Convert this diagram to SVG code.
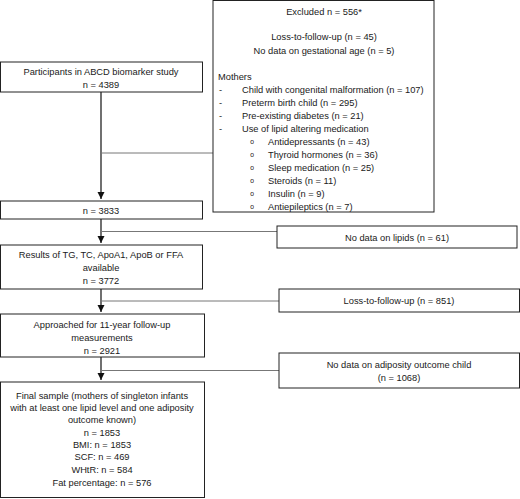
<svg xmlns="http://www.w3.org/2000/svg" width="520" height="499" viewBox="0 0 520 499">
<defs>
<style>
.box{fill:#fff;stroke:#222;stroke-width:1}
text{font-family:"Liberation Sans",Arial,sans-serif;font-size:9.3px;fill:#1a1a1a}
.c{text-anchor:middle}
.main{stroke:#111;stroke-width:1.2;fill:none}
.br{stroke:#777;stroke-width:1;fill:none}
.bul{font-family:"Liberation Mono",monospace;font-size:7px}
</style>
<marker id="ah" markerWidth="8" markerHeight="8" refX="7" refY="4" orient="auto" markerUnits="userSpaceOnUse">
<path d="M0,0.5 L7,4 L0,7.5 Z" fill="#111"/>
</marker>
</defs>
<rect width="520" height="499" fill="#fff"/>
<g id="connectors">
<path class="main" d="M101,92 V199" marker-end="url(#ah)"/>
<path class="br" d="M101,153 H213"/>
<path class="main" d="M101,219 V243" marker-end="url(#ah)"/>
<path class="br" d="M101,231.5 H277"/>
<path class="main" d="M101,289 V312" marker-end="url(#ah)"/>
<path class="br" d="M101,301 H279"/>
<path class="main" d="M101,357 V380" marker-end="url(#ah)"/>
<path class="br" d="M101,370.5 H279"/>
</g>
<g id="excluded">
<rect class="box" x="213" y="0.5" width="221" height="211.5"/>
<text class="c" x="324" y="14.5">Excluded n = 556*</text>
<text class="c" x="324" y="39.5">Loss-to-follow-up (n = 45)</text>
<text class="c" x="324" y="53.5">No data on gestational age (n = 5)</text>
<text x="218" y="79.5">Mothers</text>
<text x="219" y="92.5">-</text><text x="242" y="92.5">Child with congenital malformation (n = 107)</text>
<text x="219" y="105.5">-</text><text x="242" y="105.5">Preterm birth child (n = 295)</text>
<text x="219" y="118.5">-</text><text x="242" y="118.5">Pre-existing diabetes (n = 21)</text>
<text x="219" y="131.5">-</text><text x="242" y="131.5">Use of lipid altering medication</text>
<text class="bul" x="250" y="144">o</text><text x="268" y="144.5">Antidepressants (n = 43)</text>
<text class="bul" x="250" y="157">o</text><text x="268" y="157.5">Thyroid hormones (n = 36)</text>
<text class="bul" x="250" y="170">o</text><text x="268" y="170.5">Sleep medication (n = 25)</text>
<text class="bul" x="250" y="183">o</text><text x="268" y="183.5">Steroids (n = 11)</text>
<text class="bul" x="250" y="196">o</text><text x="268" y="196.5">Insulin (n = 9)</text>
<text class="bul" x="250" y="209">o</text><text x="268" y="209.5">Antiepileptics (n = 7)</text>
</g>
<g id="participants">
<rect class="box" x="0.5" y="62" width="202" height="30"/>
<text class="c" x="101" y="74.5">Participants in ABCD biomarker study</text>
<text class="c" x="101" y="87.5">n = 4389</text>
</g>
<g id="n3833">
<rect class="box" x="0.5" y="201" width="202" height="18"/>
<text class="c" x="101" y="213.5">n = 3833</text>
</g>
<g id="nolipids">
<rect class="box" x="277" y="226" width="240" height="22"/>
<text class="c" x="397" y="240.5">No data on lipids (n = 61)</text>
</g>
<g id="results">
<rect class="box" x="0.5" y="245" width="202" height="44"/>
<text class="c" x="101" y="257.5">Results of TG, TC, ApoA1, ApoB or FFA</text>
<text class="c" x="101" y="270.5">available</text>
<text class="c" x="101" y="283.5">n = 3772</text>
</g>
<g id="loss851">
<rect class="box" x="279" y="289" width="240.5" height="23"/>
<text class="c" x="399" y="303.5">Loss-to-follow-up (n = 851)</text>
</g>
<g id="approached">
<rect class="box" x="0.5" y="314" width="204" height="43"/>
<text class="c" x="102" y="327.5">Approached for 11-year follow-up</text>
<text class="c" x="102" y="340.5">measurements</text>
<text class="c" x="102" y="353.5">n = 2921</text>
</g>
<g id="noadiposity">
<rect class="box" x="279" y="353" width="240.5" height="35"/>
<text class="c" x="399" y="367.5">No data on adiposity outcome child</text>
<text class="c" x="399" y="380.5">(n = 1068)</text>
</g>
<g id="final">
<rect class="box" x="0.5" y="382" width="204" height="115.5"/>
<text class="c" x="102" y="398.5">Final sample (mothers of singleton infants</text>
<text class="c" x="102" y="410.5">with at least one lipid level and one adiposity</text>
<text class="c" x="102" y="422.5">outcome known)</text>
<text class="c" x="102" y="435.5">n = 1853</text>
<text class="c" x="102" y="447.5">BMI: n = 1853</text>
<text class="c" x="102" y="460">SCF: n = 469</text>
<text class="c" x="102" y="472.5">WHtR: n = 584</text>
<text class="c" x="102" y="485.5">Fat percentage: n = 576</text>
</g>
</svg>
